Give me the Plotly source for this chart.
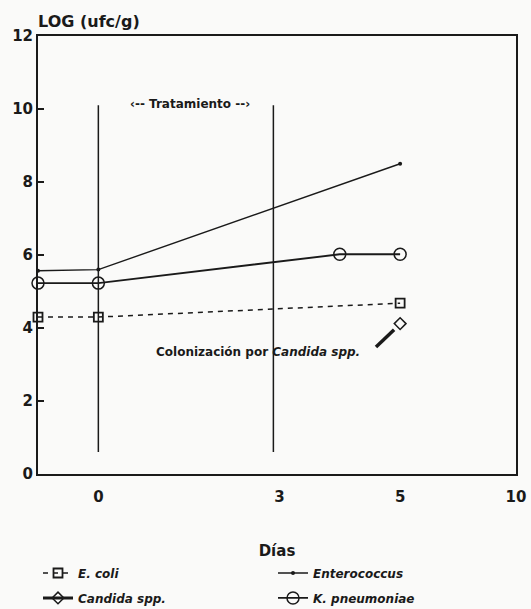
import plotly.graph_objects as go

# ---- data ----
ecoli_x = [-1, 0, 5]
ecoli_y = [4.30, 4.30, 4.68]
entero_x = [-1, 0, 5]
entero_y = [5.57, 5.60, 8.50]
kpneu_x = [-1, 0, 4, 5]
kpneu_y = [5.23, 5.23, 6.02, 6.02]
candida_seg_x = [4.6, 4.9]
candida_seg_y = [3.48, 3.95]
candida_x = [5]
candida_y = [4.12]
treatment_days = [0, 2.9]
x_tick_pos = [0, 3, 5, 6.92]
x_tick_text = ["0", "3", "5", "10"]
y_ticks = [0, 2, 4, 6, 8, 10, 12]

INK = "#1a1a1a"
BG = "#fafaf9"
FONT = "DejaVu Sans"

fig = go.Figure()

fig.add_trace(go.Scatter(
    x=ecoli_x, y=ecoli_y, mode="lines+markers", name="<b><i>E. coli</i></b>",
    line=dict(color=INK, width=1.5, dash="5px,5px"), cliponaxis=False,
    marker=dict(symbol="square-open", size=9, color=INK, line=dict(width=1.8)),
    legend="legend"))
fig.add_trace(go.Scatter(
    x=entero_x, y=entero_y, mode="lines+markers", name="<b><i>Enterococcus</i></b>",
    line=dict(color=INK, width=1.4), cliponaxis=False,
    marker=dict(symbol="circle", size=4, color=INK),
    legend="legend"))
fig.add_trace(go.Scatter(
    x=candida_seg_x, y=candida_seg_y, mode="lines", showlegend=False,
    line=dict(color=INK, width=3.5)))
fig.add_trace(go.Scatter(
    x=candida_x, y=candida_y, mode="lines+markers", name="<b><i>Candida spp.</i></b>",
    line=dict(color=INK, width=3), cliponaxis=False,
    marker=dict(symbol="diamond-open", size=9, color=INK, line=dict(width=1.5)),
    legend="legend2"))
fig.add_trace(go.Scatter(
    x=kpneu_x, y=kpneu_y, mode="lines+markers", name="<b><i>K. pneumoniae</i></b>",
    line=dict(color=INK, width=1.8), cliponaxis=False,
    marker=dict(symbol="circle-open", size=12, color=INK, line=dict(width=1.5)),
    legend="legend2"))

for d in treatment_days:
    fig.add_shape(type="line", xref="x", yref="y", x0=d, x1=d, y0=0.6, y1=10.1,
                  line=dict(color=INK, width=1.5))

fig.add_annotation(x=1.52, y=10.15, xref="x", yref="y", showarrow=False,
                   text="<b>‹-- Tratamiento --›</b>", font=dict(size=12, color=INK, family=FONT))
fig.add_annotation(x=2.65, y=3.34, xref="x", yref="y", showarrow=False,
                   text="<b>Colonización por <i>Candida spp.</i></b>",
                   font=dict(size=12, color=INK, family=FONT))
fig.add_annotation(x=-0.004, y=1.0, xref="paper", yref="paper", xanchor="left", yanchor="bottom",
                   yshift=3, showarrow=False, text="<b>LOG (ufc/g)</b>",
                   font=dict(size=16, color=INK, family=FONT))

fig.update_layout(
    width=531, height=609,
    margin=dict(l=38, r=15, t=36, b=135, autoexpand=False),
    paper_bgcolor=BG, plot_bgcolor=BG,
    font=dict(family=FONT, color=INK),
    xaxis=dict(range=[-1, 6.92], tickvals=x_tick_pos, ticktext=["<b>%s</b>" % t for t in x_tick_text],
               showgrid=False, zeroline=False, showline=True, mirror=True, linecolor=INK, linewidth=2,
               ticks="", tickfont=dict(size=15, family=FONT), ticklabelstandoff=8, automargin=False,
               ticklabeloverflow="allow",
               title=dict(text="<b>Días</b>", font=dict(size=15, family=FONT), standoff=40)),
    yaxis=dict(range=[0, 12], tickvals=y_ticks, ticktext=["<b>%d</b>" % v for v in y_ticks],
               showgrid=False, zeroline=False, showline=True, mirror=True, linecolor=INK, linewidth=2,
               ticks="inside", ticklen=6, tickwidth=1.5, tickcolor=INK, automargin=False,
               tickfont=dict(size=15, family=FONT)),
    legend=dict(orientation="h", x=0.0, y=-0.226, xanchor="left", yanchor="middle",
                entrywidth=190, entrywidthmode="pixels", itemwidth=30,
                font=dict(size=12, family=FONT), bgcolor="rgba(0,0,0,0)"),
    legend2=dict(orientation="h", x=0.0, y=-0.283, xanchor="left", yanchor="middle",
                 entrywidth=190, entrywidthmode="pixels", itemwidth=30,
                 font=dict(size=12, family=FONT), bgcolor="rgba(0,0,0,0)"),
)

fig.write_html("out.html", config={"displayModeBar": False},
               post_script="document.body.style.margin='0';document.body.style.overflow='hidden';")
